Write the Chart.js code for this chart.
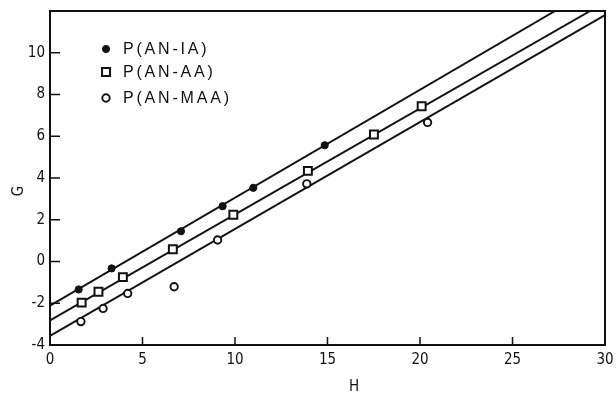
<!DOCTYPE html>
<html><head><meta charset="utf-8">
<script src="https://cdn.jsdelivr.net/npm/chart.js@4/dist/chart.umd.min.js"></script>
<style>html,body{margin:0;padding:0;background:#fff}canvas{display:block}</style>
</head><body>
<canvas id="c" width="616" height="394"></canvas>
<script>
// G versus H for the three acrylonitrile copolymers
const hIA  = [1.55, 3.33, 7.08, 9.33, 10.99, 14.85];
const gIA  = [-1.34, -0.33, 1.45, 2.65, 3.53, 5.57];
const hAA  = [1.71, 2.62, 3.94, 6.64, 9.91, 13.94, 17.51, 20.09];
const gAA  = [-1.97, -1.45, -0.75, 0.59, 2.24, 4.34, 6.08, 7.44];
const hMAA = [1.67, 2.87, 4.20, 6.71, 9.06, 13.88, 20.41];
const gMAA = [-2.88, -2.25, -1.53, -1.21, 1.03, 3.72, 6.66];
// straight-line fits, given by their end points (H, G)
const fitIA  = [[0, -2.12], [27.3, 12.0]];
const fitAA  = [[0, -2.82], [29.2, 12.0]];
const fitMAA = [[0, -3.56], [30, 11.8]];
const seriesNames = ['P(AN-IA)', 'P(AN-AA)', 'P(AN-MAA)'];
const xTicks = [0, 5, 10, 15, 20, 25, 30];
const yTicks = [-4, -2, 0, 2, 4, 6, 8, 10];
const xTitle = 'H';
const yTitle = 'G';

const INK = '#111';
const numFont = '"Liberation Sans Narrow", "DejaVu Sans Condensed", "Liberation Sans", sans-serif';
const txtFont = '"Liberation Sans", "DejaVu Sans", sans-serif';

const pts = (xs, ys) => xs.map((x, i) => ({x, y: ys[i]}));
const seg = (p) => p.map(([x, y]) => ({x, y}));

const lineStyle = {showLine: true, borderColor: INK, borderWidth: 2, pointRadius: 0,
  pointHoverRadius: 0, fill: false, order: 2};
const markStyles = [
  {pointStyle: 'circle', pointRadius: 3.6, backgroundColor: INK, borderColor: INK, borderWidth: 1},
  {pointStyle: 'rect', pointRadius: 5.6, backgroundColor: '#fff', borderColor: INK, borderWidth: 2},
  {pointStyle: 'circle', pointRadius: 3.7, backgroundColor: '#fff', borderColor: INK, borderWidth: 1.9}
];

const datasets = [
  Object.assign({label: 'fit IA', data: seg(fitIA)}, lineStyle),
  Object.assign({label: 'fit AA', data: seg(fitAA)}, lineStyle),
  Object.assign({label: 'fit MAA', data: seg(fitMAA)}, lineStyle),
  Object.assign({label: seriesNames[0], data: pts(hIA, gIA), showLine: false, order: 1, isSeries: true}, markStyles[0]),
  Object.assign({label: seriesNames[1], data: pts(hAA, gAA), showLine: false, order: 1, isSeries: true}, markStyles[1]),
  Object.assign({label: seriesNames[2], data: pts(hMAA, gMAA), showLine: false, order: 1, isSeries: true}, markStyles[2])
];

// frame, inward tick marks, axis titles and the key inside the plot
const decor = {
  id: 'decor',
  afterDraw(chart) {
    const {ctx, chartArea: a, scales: {x, y}} = chart;
    ctx.save();
    ctx.strokeStyle = INK;
    ctx.lineWidth = 2;
    ctx.strokeRect(a.left, a.top, a.right - a.left, a.bottom - a.top);
    ctx.lineWidth = 1.5;
    ctx.beginPath();
    xTicks.slice(1, -1).forEach(v => {
      const px = x.getPixelForValue(v);
      ctx.moveTo(px, a.bottom); ctx.lineTo(px, a.bottom - 8);
    });
    yTicks.slice(1).forEach(v => {
      const py = y.getPixelForValue(v);
      ctx.moveTo(a.left, py); ctx.lineTo(a.left + 10, py);
    });
    ctx.stroke();

    ctx.fillStyle = INK;
    ctx.font = '15px ' + numFont;
    ctx.textAlign = 'center';
    ctx.textBaseline = 'middle';
    ctx.fillText(xTitle, 354, 387);
    ctx.save();
    ctx.translate(19, 191);
    ctx.rotate(-Math.PI / 2);
    ctx.fillText(yTitle, 0, 0);
    ctx.restore();

    // key
    const rows = [49, 72, 98];
    ctx.font = '16px ' + txtFont;
    ctx.textAlign = 'left';
    ctx.letterSpacing = '2.8px';
    chart.data.datasets.filter(d => d.isSeries).forEach((d, i) => {
      ctx.fillStyle = d.backgroundColor;
      ctx.strokeStyle = d.borderColor;
      ctx.lineWidth = d.borderWidth;
      ctx.beginPath();
      if (d.pointStyle === 'rect') {
        const s = d.pointRadius * Math.SQRT1_2;
        ctx.rect(106 - s, rows[i] - s, 2 * s, 2 * s);
      } else {
        ctx.arc(106, rows[i], d.pointRadius, 0, Math.PI * 2);
      }
      ctx.fill(); ctx.stroke();
      ctx.fillStyle = INK;
      ctx.fillText(d.label, 123, rows[i] + 1);
    });
    ctx.restore();
  }
};

new Chart(document.getElementById('c'), {
  type: 'scatter',
  data: {datasets},
  options: {
    responsive: false,
    animation: false,
    events: [],
    layout: {padding: {left: 0, right: 11, top: 11, bottom: 0}},
    plugins: {legend: {display: false}, tooltip: {enabled: false}},
    scales: {
      x: {
        type: 'linear', min: 0, max: 30,
        afterBuildTicks: s => { s.ticks = xTicks.map(v => ({value: v})); },
        afterFit: s => { s.height = 49; s.paddingLeft = 0; s.paddingRight = 0; },
        grid: {display: false, drawTicks: false},
        border: {display: false},
        ticks: {color: INK, padding: 6, maxRotation: 0, autoSkip: false,
          font: {family: numFont, size: 15}}
      },
      y: {
        type: 'linear', min: -4, max: 12,
        afterBuildTicks: s => { s.ticks = yTicks.map(v => ({value: v})); },
        afterFit: s => { s.width = 50; s.paddingTop = 0; s.paddingBottom = 0; },
        grid: {display: false, drawTicks: false},
        border: {display: false},
        ticks: {color: INK, padding: 5, autoSkip: false,
          font: {family: numFont, size: 15}}
      }
    }
  },
  plugins: [decor]
});
</script>
</body></html>
